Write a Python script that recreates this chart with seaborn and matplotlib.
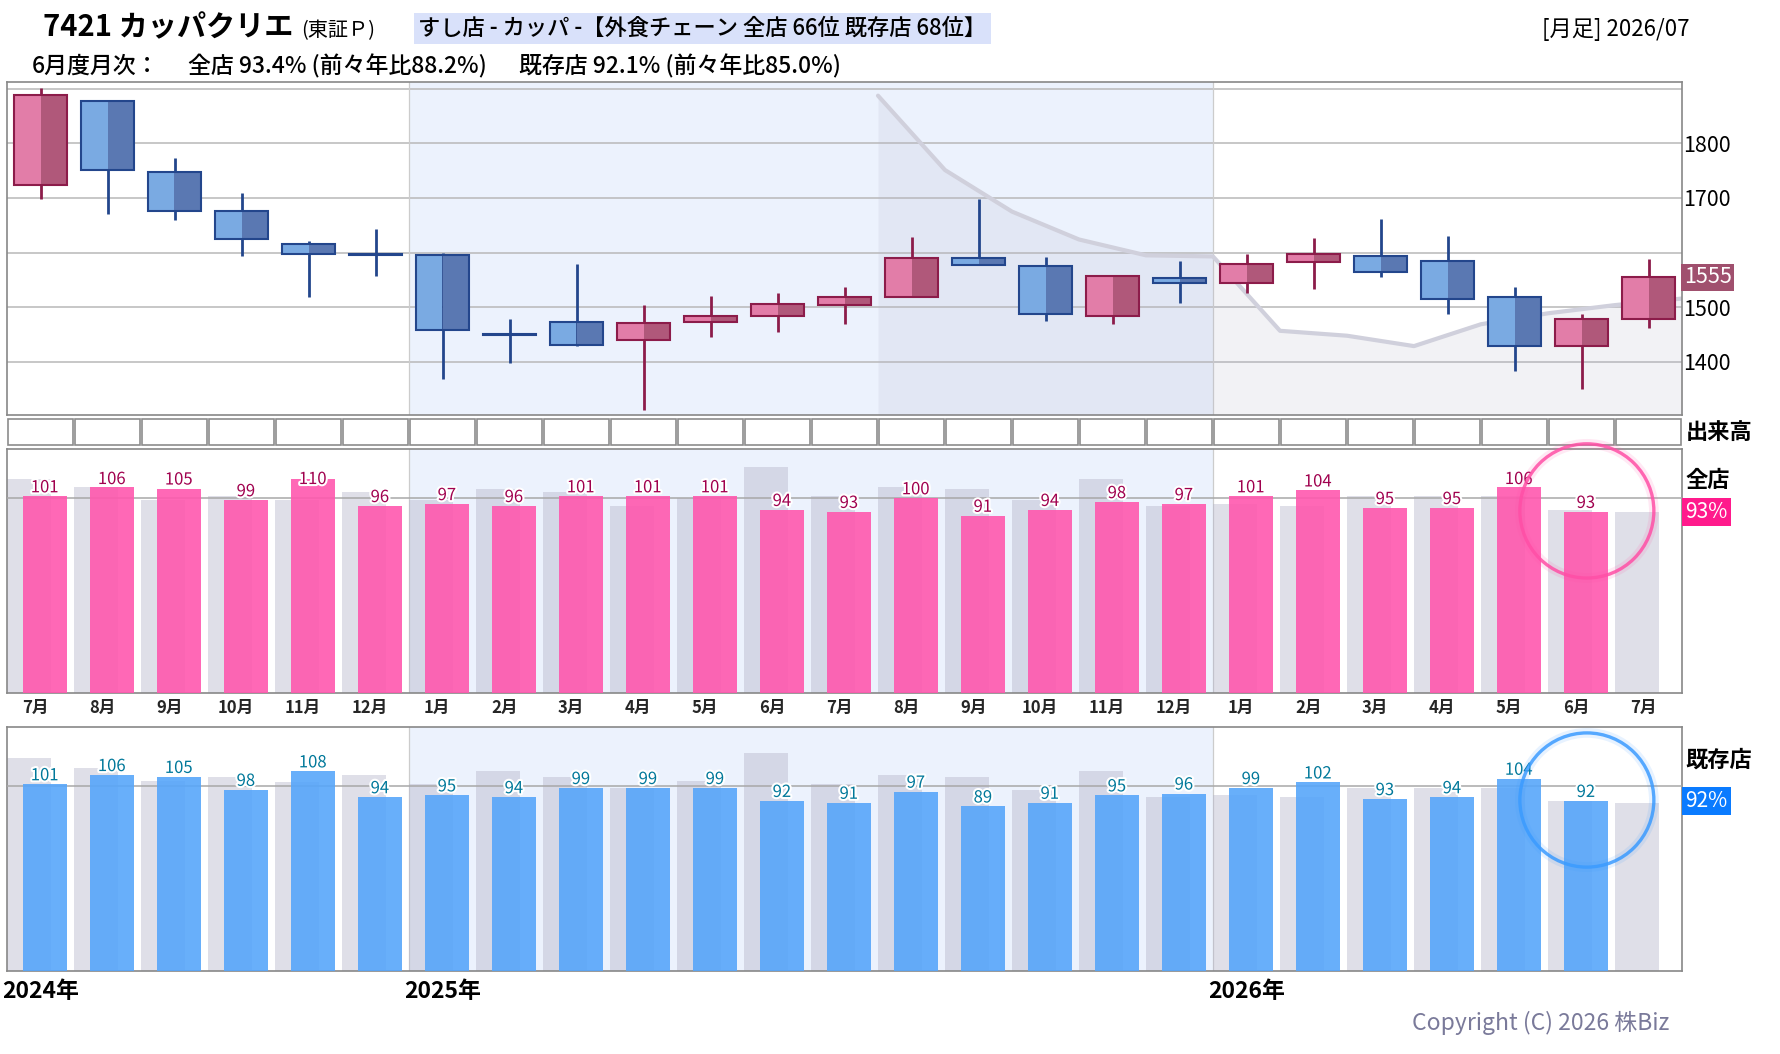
import numpy as np
import matplotlib
matplotlib.use('Agg')
import matplotlib.pyplot as plt
import matplotlib.patheffects as pe
from matplotlib.patches import Ellipse
import seaborn as sns

###############################################################################
### Data
months = ['7月', '8月', '9月', '10月', '11月', '12月',
          '1月', '2月', '3月', '4月', '5月', '6月', '7月', '8月', '9月', '10月', '11月', '12月',
          '1月', '2月', '3月', '4月', '5月', '6月', '7月']
years = ['2024年', '2025年', '2026年']
year_start = [0, 6, 18]

price_open = [1723, 1877, 1747, 1676, 1615, 1598, 1595, 1452, 1473, 1441, 1473, 1484, 1504,
              1518, 1591, 1575, 1484, 1553, 1544, 1582, 1593, 1584, 1518, 1429, 1478]
price_high = [1901, 1879, 1773, 1709, 1621, 1643, 1599, 1479, 1579, 1504, 1521, 1526, 1537,
              1629, 1698, 1592, 1557, 1585, 1598, 1627, 1662, 1631, 1537, 1488, 1588]
price_low = [1698, 1670, 1660, 1593, 1518, 1558, 1368, 1399, 1430, 1313, 1446, 1454, 1470,
             1518, 1577, 1474, 1469, 1507, 1526, 1534, 1555, 1488, 1383, 1350, 1462]
price_close = [1888, 1751, 1676, 1624, 1597, 1595, 1458, 1449, 1431, 1471, 1484, 1506, 1518,
               1590, 1577, 1487, 1557, 1544, 1579, 1598, 1564, 1516, 1429, 1479, 1555]
# grey line: close one year earlier, from end of 2025-07 on
prev_close = [1887, 1751, 1675, 1624, 1595, 1593, 1457, 1448, 1429, 1469, 1489, 1504, 1516]

zen = [101, 106, 105, 99, 110, 96, 97, 96, 101, 101, 101, 94, 93,
       100, 91, 94, 98, 97, 101, 104, 95, 95, 106, 93, np.nan]
zen_prev = [110, 106, 99, 101, 99, 103, 99, 105, 103, 96, 100, 116, 101,
            106, 105, 99, 110, 96, 97, 96, 101, 101, 101, 94, 93]
kizon = [101, 106, 105, 98, 108, 94, 95, 94, 99, 99, 99, 92, 91,
         97, 89, 91, 95, 96, 99, 102, 93, 94, 104, 92, np.nan]
kizon_prev = [115, 110, 103, 105, 102, 106, 101, 108, 105, 99, 103, 118, 101,
              106, 105, 98, 108, 94, 95, 94, 99, 99, 99, 92, 91]
vol_frame = [1] * len(months)   # empty volume boxes

last_price = 1555
zen_last = 93
kizon_last = 92

###############################################################################
### Style
sns.set_theme(style='white')
plt.rcParams['font.family'] = ['Noto Sans CJK JP', 'DejaVu Sans']
plt.rcParams['axes.edgecolor'] = '#888888'
plt.rcParams['axes.linewidth'] = 1.2

W, H = 1780, 1054
fig = plt.figure(figsize=(W / 100, H / 100), dpi=100)


def box(l, t, r, b):
    return [l / W, 1 - b / H, (r - l) / W, (b - t) / H]


ax_p = fig.add_axes(box(7, 82, 1682, 415))
ax_v = fig.add_axes(box(7, 419, 1682, 445))
ax_z = fig.add_axes(box(7, 449, 1682, 693))
ax_k = fig.add_axes(box(7, 727, 1682, 971))

n = len(months)
x = np.arange(n)
shade_from = year_start[1] - 0.5
shade_to = year_start[2] - 0.5
shade_col = '#ECF2FD'

###############################################################################
### Candles
ax_p.set_xlim(-0.5, n - 0.5)
ax_p.set_ylim(1303, 1912)
ax_p.axvspan(shade_from, shade_to, color=shade_col, lw=0, zorder=0)
for b in year_start[1:]:
    ax_p.axvline(b - 0.5, color='#CCCCCC', lw=0.9, zorder=1)

px = np.arange(n - len(prev_close) + 1, n + 1) - 0.5
ax_p.fill_between(px, prev_close, 1303, color='#B4B4C8', alpha=0.17, lw=0, zorder=1)
sns.lineplot(x=px, y=prev_close, ax=ax_p, color='#D0D0DC', lw=3, zorder=2)

for i in range(n):
    o, h, l, c = price_open[i], price_high[i], price_low[i], price_close[i]
    up = c >= o
    edge = '#8C1C4A' if up else '#23468C'
    light = '#E27DA8' if up else '#7AAAE2'
    dark = '#B0587A' if up else '#5A78B2'
    lo = min(o, c)
    hgt = max(abs(c - o), 3)
    ax_p.vlines(i, l, h, color=edge, lw=2, zorder=3)
    ax_p.bar(i - 0.195, hgt, width=0.39, bottom=lo, color=light, lw=0, zorder=4)
    ax_p.bar(i + 0.195, hgt, width=0.39, bottom=lo, color=dark, lw=0, zorder=4)
    ax_p.bar(i, hgt, width=0.78, bottom=lo, fill=False, edgecolor=edge, lw=1.5, zorder=5)

ax_p.set_yticks([1400, 1500, 1600, 1700, 1800, 1900])
ax_p.set_yticklabels(['1400', '1500', '', '1700', '1800', ''])
ax_p.yaxis.tick_right()
ax_p.tick_params(axis='y', length=0, pad=1, labelsize=15.5, labelcolor='black')
ax_p.set_xticks([])
ax_p.grid(axis='y', color='#B8B8B8', lw=1.1, zorder=1)
ax_p.set_axisbelow(True)
ax_p.set_xlabel('')
ax_p.set_ylabel('')
ax_p.text(1.001, last_price, str(last_price), transform=ax_p.get_yaxis_transform(),
          ha='left', va='center', fontsize=15.5, color='white',
          bbox=dict(boxstyle='square,pad=0.12', fc='#A0506E', ec='none'))

###############################################################################
### Volume boxes (empty)
ax_v.bar(x, vol_frame, width=0.965, color='white', edgecolor='#8C8C8C', lw=1.2, clip_on=False)
ax_v.set_xlim(-0.5, n - 0.5)
ax_v.set_ylim(0, 1)
ax_v.axis('off')
ax_v.text(1.002, 0.5, '出来高', transform=ax_v.transAxes, ha='left', va='center',
          fontsize=16, fontweight='bold', color='black')


###############################################################################
### Monthly sales bars
def bar_panel(ax, cur, prev, color, txt_color, ymax, name, name_y, last, last_col, ring_col):
    ax.set_xlim(-0.5, n - 0.5)
    ax.axvspan(shade_from, shade_to, color=shade_col, lw=0, zorder=0)
    for b in year_start[1:]:
        ax.axvline(b - 0.5, color='#CCCCCC', lw=0.9, zorder=1)
    sns.barplot(x=x - 0.175, y=prev, native_scale=True, orient='x', width=0.65,
                color='#B8B8CC', alpha=0.45, saturation=1, errorbar=None, lw=0, ax=ax, zorder=2)
    ax.axhline(100, color='#A8A8A8', lw=1.1, zorder=3)
    sns.barplot(x=x + 0.065, y=cur, native_scale=True, orient='x', width=0.66,
                color=color, alpha=0.9, saturation=1, errorbar=None, lw=0, ax=ax, zorder=4)
    for i, v in enumerate(cur):
        if np.isnan(v):
            continue
        ax.annotate(f'{v:.0f}', (i + 0.065, min(v, ymax * 0.84)), xytext=(0, 0),
                    textcoords='offset points', ha='center', va='bottom', fontsize=12,
                    color=txt_color, zorder=6,
                    path_effects=[pe.withStroke(linewidth=3, foreground='white')])
    ax.set_xlim(-0.5, n - 0.5)
    ax.set_ylim(0, ymax)
    ax.set_yticks([])
    ax.set_xlabel('')
    ax.set_ylabel('')
    ax.text(1.002, name_y, name, transform=ax.get_yaxis_transform(), ha='left', va='center',
            fontsize=16, fontweight='bold', color='black')
    ax.text(1.002, last, f'{last}%', transform=ax.get_yaxis_transform(), ha='left', va='center',
            fontsize=15, color='white',
            bbox=dict(boxstyle='square,pad=0.14', fc=last_col, ec='none'))
    # highlight ring around latest month
    cx = len([v for v in cur if not np.isnan(v)]) - 1 + 0.08
    for lw_, a_ in [(7, 0.12), (2.4, 0.85)]:
        ax.add_patch(Ellipse((cx, last + 0.5), 2.0, ymax * 0.55, fill=False,
                             edgecolor=ring_col, lw=lw_, alpha=a_, clip_on=False, zorder=7))


bar_panel(ax_z, zen, zen_prev, '#FF58AE', '#A0004E', 125.3, '全店', 109, zen_last,
          '#FF1A8C', '#FF4FA6')
bar_panel(ax_k, kizon, kizon_prev, '#57A6FA', '#00789A', 132, '既存店', 114, kizon_last,
          '#0A7BFF', '#3B9BFF')

ax_z.set_xticks(x - 0.08)
ax_z.set_xticklabels(months)
ax_z.tick_params(axis='x', length=0, pad=4, labelsize=12)
for t in ax_z.get_xticklabels():
    t.set_fontweight('bold')
ax_k.set_xticks([])

for ys, yl in zip(year_start, years):
    ax_k.text(ys - 0.57, -0.083, yl, transform=ax_k.get_xaxis_transform(), ha='left',
              va='center', fontsize=16.5, fontweight='bold', color='black')

###############################################################################
### Header
fig.text(43 / W, 1 - 36 / H, '7421 カッパクリエ', ha='left', va='baseline',
         fontsize=21, fontweight='bold', color='black')
fig.text(301 / W, 1 - 36 / H, '(東証Ｐ)', ha='left', va='baseline', fontsize=14.5, color='black')
fig.text(418 / W, 1 - 28.5 / H, 'すし店 - カッパ -【外食チェーン 全店 66位 既存店 68位】',
         ha='left', va='center', fontsize=16, fontweight='medium', color='black',
         bbox=dict(boxstyle='square,pad=0.2', fc='#D9E1FA', ec='none'))
fig.text(1690 / W, 1 - 29.5 / H, '[月足] 2026/07', ha='right', va='center', fontsize=16, color='black')
fig.text(32 / W, 1 - 66 / H, '6月度月次：', ha='left', va='center', fontsize=16.5,
         fontweight='medium', color='black')
fig.text(188 / W, 1 - 66 / H, '全店 93.4% (前々年比88.2%)', ha='left', va='center',
         fontsize=16.5, fontweight='medium', color='black')
fig.text(519 / W, 1 - 66 / H, '既存店 92.1% (前々年比85.0%)', ha='left', va='center',
         fontsize=16.5, fontweight='medium', color='black')
fig.text(1669 / W, 1 - 1023 / H, 'Copyright (C) 2026 株Biz', ha='right', va='center',
         fontsize=16.5, color='#7A7A9A')

fig.savefig('out.png', dpi=100)
